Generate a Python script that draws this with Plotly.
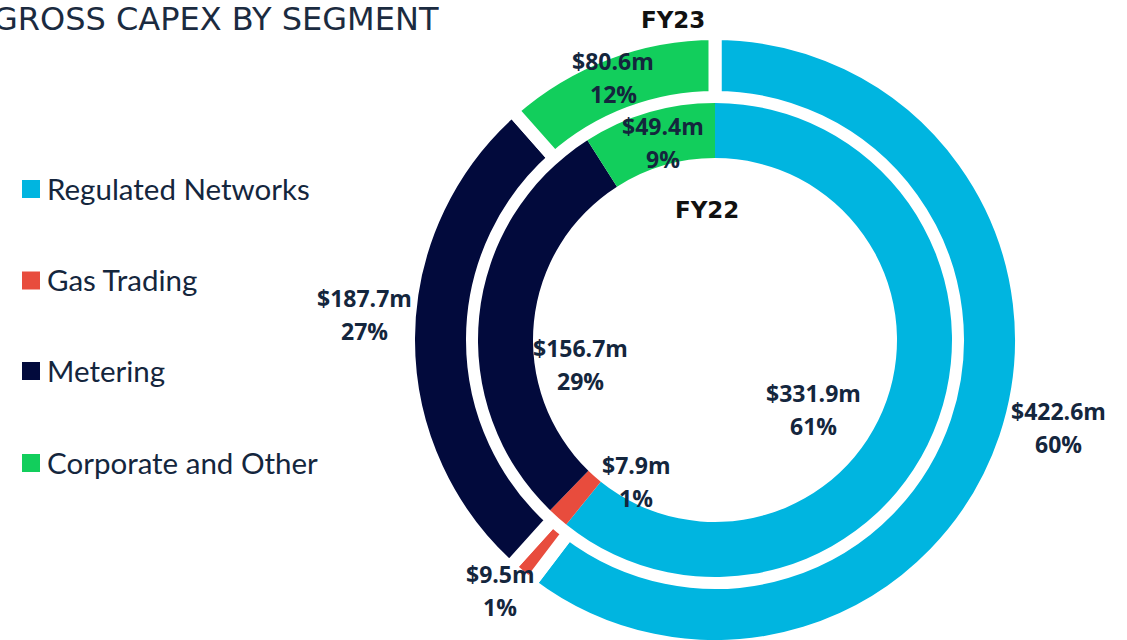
import plotly.graph_objects as go

W, H = 1127, 700  # page is 640 tall; the lower part is cut off like the reference

segments = ["Regulated Networks", "Gas Trading", "Metering", "Corporate and Other"]
fy23_values = [422.6, 9.5, 187.7, 80.6]
fy22_values = [331.9, 7.9, 156.7, 49.4]
colors = ["#00B5E0", "#E84C3D", "#020A3C", "#12CE5C"]

title_text = "GROSS CAPEX BY SEGMENT"
ring_titles = ["FY23", "FY22"]

# label positions (pixel centres of the two-line labels), kept apart from the data
fy23_label_pos = [(1058, 427), (500, 590), (364, 314), (613, 77)]
fy22_label_pos = [(813, 409), (636, 481), (580, 364), (663, 142)]

TEXT_COLOR = "#14263D"
LABEL_FONT = "Open Sans"
CX, CY = 715, 340


def px(x):
    return x / W


def py(y):
    return 1 - y / H


def pct_labels(values):
    tot = sum(values)
    return [f"{round(v / tot * 100):.0f}%" for v in values]


fig = go.Figure()

# Outer ring (FY23), slices separated by thick white borders
R_OUT = 306.5
fig.add_trace(go.Pie(
    values=fy23_values, labels=segments, sort=False, direction="clockwise", rotation=0,
    hole=242.5 / R_OUT,
    marker=dict(colors=colors, line=dict(width=13, color="white")),
    textinfo="none", hoverinfo="label+value+percent", showlegend=False,
    domain=dict(x=[px(CX - R_OUT), px(CX + R_OUT)], y=[py(CY + R_OUT), py(CY - R_OUT)]),
))

# Inner ring (FY22)
R_IN = 237
fig.add_trace(go.Pie(
    values=fy22_values, labels=segments, sort=False, direction="clockwise", rotation=0,
    hole=182 / R_IN,
    marker=dict(colors=colors, line=dict(width=0)),
    textinfo="none", hoverinfo="label+value+percent", showlegend=False,
    domain=dict(x=[px(CX - R_IN), px(CX + R_IN)], y=[py(CY + R_IN), py(CY - R_IN)]),
))

annotations = []
shapes = []

for values, positions in ((fy23_values, fy23_label_pos), (fy22_values, fy22_label_pos)):
    pcts = pct_labels(values)
    for v, p, (x, y) in zip(values, pcts, positions):
        annotations.append(dict(
            x=px(x), y=py(y - 16), xref="paper", yref="paper", showarrow=False,
            text=f"<b>${v:.1f}m</b>", xanchor="center", yanchor="middle",
            font=dict(family=LABEL_FONT, size=23, color=TEXT_COLOR)))
        annotations.append(dict(
            x=px(x), y=py(y + 17), xref="paper", yref="paper", showarrow=False,
            text=f"<b>{p}</b>", xanchor="center", yanchor="middle",
            font=dict(family=LABEL_FONT, size=23, color=TEXT_COLOR)))

# Ring titles
annotations.append(dict(x=px(673), y=py(20), xref="paper", yref="paper", showarrow=False,
                        text=f"<b>{ring_titles[0]}</b>", xanchor="center", yanchor="middle",
                        font=dict(family="DejaVu Sans", size=23, color="#111111")))
annotations.append(dict(x=px(707), y=py(210), xref="paper", yref="paper", showarrow=False,
                        text=f"<b>{ring_titles[1]}</b>", xanchor="center", yanchor="middle",
                        font=dict(family="DejaVu Sans", size=23, color="#111111")))

# Title (clipped on the left like the reference)
annotations.append(dict(x=px(441), y=py(19), xref="paper", yref="paper", showarrow=False,
                        text=title_text, xanchor="right", yanchor="middle",
                        font=dict(family="DejaVu Sans", size=32, color="#1B2B40")))

# Manual legend
legend_y = [189, 280.5, 371, 463]
for name, col, ly in zip(segments, colors, legend_y):
    shapes.append(dict(type="rect", xref="paper", yref="paper",
                       x0=px(22), x1=px(40), y0=py(ly + 9), y1=py(ly - 9),
                       fillcolor=col, line=dict(width=0)))
    annotations.append(dict(x=px(45), y=py(ly - 1), xref="paper", yref="paper", showarrow=False,
                            text=name, xanchor="left", yanchor="middle",
                            font=dict(family="Lato", size=29.5, color=TEXT_COLOR)))

fig.update_layout(
    width=W, height=H, margin=dict(l=0, r=0, t=0, b=0),
    paper_bgcolor="white", plot_bgcolor="white",
    annotations=annotations, shapes=shapes, showlegend=False,
)

fig.write_html(
    "out.html",
    config={"displayModeBar": False},
    post_script="document.body.style.margin='0';document.body.style.overflow='hidden';",
)
